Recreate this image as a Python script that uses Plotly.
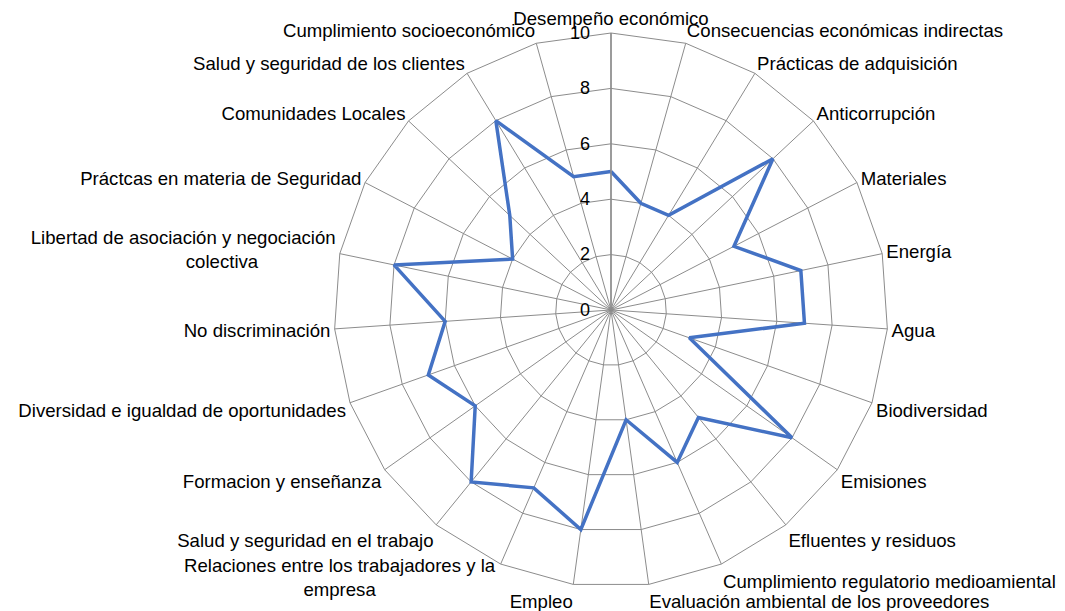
import plotly.graph_objects as go

NB = "\u00a0"
categories = [
    "Desempeño económico",
    "Consecuencias económicas indirectas",
    "Prácticas de adquisición",
    "Anticorrupción",
    "Materiales",
    "Energía",
    "Agua",
    "Biodiversidad",
    "Emisiones",
    "Efluentes y residuos",
    "Cumplimiento regulatorio medioamiental",
    "Evaluación ambiental de los proveedores",
    "Empleo",
    "Relaciones entre los trabajadores y la<br>empresa",
    "Salud y seguridad en el trabajo",
    "Formacion y enseñanza",
    "Diversidad e igualdad de oportunidades",
    "No discriminación",
    "Libertad de asociación y negociación<br>colectiva" + NB * 15,
    "Práctcas en materia de Seguridad",
    "Comunidades Locales",
    "Salud y seguridad de los clientes",
    "Cumplimiento socioeconómico",
]
values = [5, 4, 4, 8, 5, 7, 7, 3, 8, 5, 6, 4, 8, 7, 8, 6, 7, 6, 8, 4, 5, 8, 5]
radial_ticks = [0, 2, 4, 6, 8, 10]

# the two-line label near the bottom edge is drawn as a centred annotation
REL = 13
ticktext = [("" if i == REL else c) for i, c in enumerate(categories)]

fig = go.Figure()
fig.add_trace(go.Scatterpolar(
    r=values + values[:1],
    theta=categories + categories[:1],
    mode="lines",
    line=dict(color="#4472C4", width=3.5),
    hoverinfo="r+theta",
))

# page body has an 8px margin: place the chart so it lands where the reference has it
W, H = 1065, 611
OFF = 8
cx, cy, R = 611 - OFF, 310 - OFF, 277
fig.update_layout(
    width=W, height=H,
    margin=dict(l=0, r=0, t=0, b=0),
    paper_bgcolor="white",
    plot_bgcolor="white",
    showlegend=False,
    font=dict(family="Liberation Sans, Arial, sans-serif", size=18.6, color="#000000"),
    polar=dict(
        domain=dict(x=[(cx - R) / W, (cx + R) / W],
                    y=[(H - cy - R) / H, (H - cy + R) / H]),
        bgcolor="white",
        gridshape="linear",
        angularaxis=dict(
            direction="clockwise",
            rotation=90,
            tickmode="array",
            tickvals=categories,
            ticktext=ticktext,
            showline=True,
            linecolor="#8c8c8c",
            linewidth=1,
            gridcolor="#8c8c8c",
            gridwidth=1,
            ticks="",
            tickfont=dict(size=18.6, color="#000000"),
        ),
        radialaxis=dict(
            range=[0, 10],
            tickvals=radial_ticks,
            ticktext=[str(v) for v in radial_ticks],
            angle=90,
            tickangle=90,
            side="counterclockwise",
            showline=True,
            linecolor="#8c8c8c",
            linewidth=1.5,
            gridcolor="#8c8c8c",
            gridwidth=1,
            ticks="outside",
            ticklen=14,
            tickcolor="rgba(0,0,0,0)",
            tickfont=dict(size=18, color="#000000"),
        ),
    ),
    annotations=[dict(
        text=categories[REL],
        xref="paper", yref="paper",
        x=(340 - OFF) / W, y=1 - (577.5 - OFF) / H,
        xanchor="center", yanchor="middle",
        align="center",
        showarrow=False,
        font=dict(size=18.6, color="#000000"),
    )],
)

fig.write_html("out.html")
